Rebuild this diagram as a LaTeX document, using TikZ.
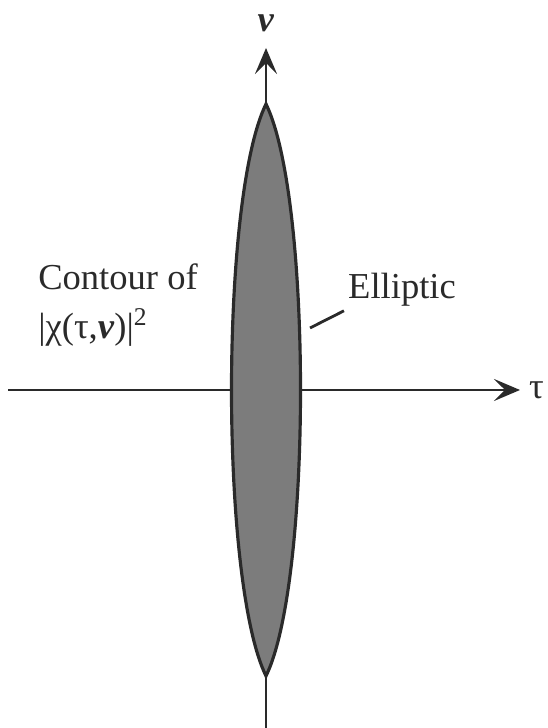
\documentclass[tikz,border=0pt]{standalone}
\usepackage{fontspec}
\setmainfont{Liberation Serif}
\usepackage{tikz}
\usetikzlibrary{arrows.meta, positioning}
\definecolor{lensgray}{HTML}{7C7C7C}
\definecolor{inkgray}{HTML}{2A2A2A}

\begin{document}
\begin{tikzpicture}[
    axis/.style  = {-{Stealth[length=2.6mm,width=2.2mm,inset=1.1mm]}, line width=0.8pt, color=inkgray},
    lens/.style  = {draw=inkgray, line width=0.9pt, fill=lensgray},
    label/.style = {font=\fontsize{10.4}{13}\selectfont, inner sep=1pt, color=inkgray}
  ]
  \useasboundingbox (0,0) rectangle (5.47,7.28);

  % axes
  \coordinate (tauL) at (0.08,3.38);
  \coordinate (tauR) at (5.20,3.38);
  \coordinate (nuB)  at (2.66,0.00);
  \coordinate (nuT)  at (2.66,6.80);

  \draw[axis] (tauL) -- (tauR);
  \draw[axis] (nuB)  -- (nuT);

  % elliptic contour
  \coordinate (top) at (2.66,6.24);
  \coordinate (bot) at (2.66,0.52);
  \draw[lens] (top) .. controls (3.12,5.30) and (3.12,1.46) .. (bot)
                    .. controls (2.20,1.46) and (2.20,5.30) .. (top) -- cycle;

  \node[label, right=0.05cm of tauR]        (tau) {τ};
  \node[label, above=0.12cm of nuT]         (nu)  {\textbf{\textit{ν}}};
  \node[label, align=left] at (1.18,4.23)   (cont) {Contour of\\[1pt]|χ(τ,\textbf{\textit{ν}})|\textsuperscript{2}};
  \node[label, anchor=west] at (3.44,4.38)  (ell) {Elliptic};

  \coordinate (edge) at (3.10,4.00);
  \draw[line width=0.8pt, color=inkgray] (edge) -- (ell.south west);
\end{tikzpicture}
\end{document}
